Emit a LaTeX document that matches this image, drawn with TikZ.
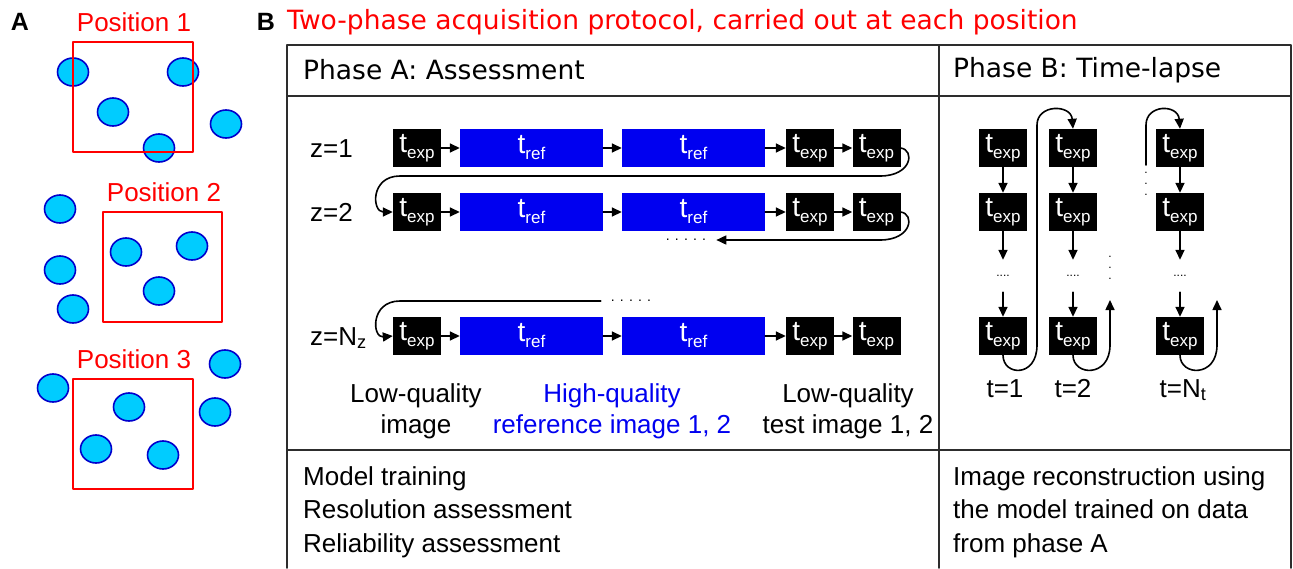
\documentclass[tikz,border=0pt]{standalone}
\usepackage{fontspec}
\setmainfont{Liberation Sans}
\newfontfamily\hdfont{DejaVu Sans}
\usetikzlibrary{arrows.meta,positioning}
\definecolor{cellfill}{RGB}{0,204,255}
\definecolor{celledge}{RGB}{0,0,204}
\definecolor{refblue}{RGB}{0,0,240}
\definecolor{posred}{RGB}{255,0,0}
\definecolor{gridgray}{RGB}{45,45,45}
\newcommand{\tsym}[1]{{\fontsize{28}{28}\selectfont t}\raisebox{-6pt}{\fontsize{17}{17}\selectfont #1}}
\tikzset{
  expbox/.style={fill=black,text=white,minimum width=48,minimum height=38,inner sep=0pt},
  refbox/.style={fill=refblue,text=white,minimum width=143,minimum height=38,inner sep=0pt},
  lbl/.style={font=\fontsize{26}{31}\selectfont,align=center,inner sep=0pt},
  hdr/.style={font=\hdfont\fontsize{26.5}{30}\selectfont,inner sep=0pt},
  panel/.style={font=\fontsize{25}{30}\selectfont\bfseries,inner sep=0pt},
  dotsrow/.style={font=\fontsize{14}{14}\selectfont,inner ysep=0pt,inner xsep=10pt},
  vdots/.style={font=\fontsize{12}{11}\selectfont,align=center,inner sep=0pt},
  link/.style={->,line width=1.6pt},
  grid/.style={line width=1.8pt,color=gridgray},
  fov/.style={line width=1.8pt,color=posred},
  cell/.style={line width=1.6pt,draw=celledge,fill=cellfill},
}
\begin{document}
\begin{tikzpicture}[line cap=round,line join=round,>={Triangle[length=10pt,width=9pt]},x=1pt,y=-1pt]
\useasboundingbox (0,0) rectangle (1293,568);
% panel A
\node[panel] (labA) at (20,22) {A};
\foreach \x/\y in {73/72,183/72,113/112,226/124,159/148,
                   60/209,60/270,73/309,126/252,192/246,159/291,
                   225/364,53/388,215/412,129/407,96/449,163/455}
  \draw[cell] (\x,\y) ellipse (15.5 and 14);
\draw[fov] (73,42) rectangle (193,152);
\draw[fov] (103,212) rectangle (222,322);
\draw[fov] (73,379) rectangle (193,489);
\node[lbl,text=posred,anchor=base] (pos1) at (134,31) {Position 1};
\node[lbl,text=posred,anchor=base] (pos2) at (164,201) {Position 2};
\node[lbl,text=posred,anchor=base] (pos3) at (134,368) {Position 3};
% panel B
\node[panel] (labB) at (266,22) {B};
\node[hdr,text=posred,anchor=west] (title) at (287,22) {Two-phase acquisition protocol, carried out at each position};
\draw[grid] (287,568) -- (287,45) -- (1291,45) -- (1291,568);
\draw[grid] (287,96) -- (1291,96);
\draw[grid] (287,450) -- (1291,450);
\draw[grid] (939,45) -- (939,568);
\node[hdr,anchor=west] (phaseA) at (303,70) {Phase A: Assessment};
\node[hdr,anchor=west] (phaseB) at (953,70) {Phase B: Time-lapse};
% phase A: z-stack rows
\foreach \r/\y in {1/148,2/212,3/336}{
  \node[expbox] (e\r1) at (417,\y) {\tsym{exp}};
  \node[refbox] (r\r1) at (531.5,\y) {\tsym{ref}};
  \node[refbox] (r\r2) at (693.5,\y) {\tsym{ref}};
  \node[expbox] (e\r2) at (810,\y) {\tsym{exp}};
  \node[expbox] (e\r3) at (876.5,\y) {\tsym{exp}};
  \draw[link] (e\r1) -- (r\r1);
  \draw[link] (r\r1) -- (r\r2);
  \draw[link] (r\r2) -- (e\r2);
  \draw[link] (e\r2) -- (e\r3);
}
\node[lbl,anchor=base west] (z1) at (310,157) {z=1};
\node[lbl,anchor=base west] (z2) at (310,221) {z=2};
\node[lbl,anchor=base west] (zn) at (310,345) {z=N\textsubscript{z}};
\node[dotsrow] (dots2) at (686,240) {. . . . .};
\node[dotsrow] (dotsn) at (631,301) {. . . . .};
\draw[link] (e13.east) .. controls (915,150) and (912,176) .. (880,176) -- (400,176)
  .. controls (370,176) and (372,212) .. (e21.west);
\draw[link] (e23.east) .. controls (915,214) and (912,240) .. (880,240) -- (dots2.east);
\draw[link] (dotsn.west) -- (400,301) .. controls (370,301) and (372,338) .. (e31.west);
\node[lbl,anchor=north] (lowq) at (416,383) {Low-quality\\image};
\node[lbl,anchor=north,text=refblue] (highq) at (612,383) {High-quality\\reference image 1, 2};
\node[lbl,anchor=north] (testq) at (848,383) {Low-quality\\test image 1, 2};
% phase B: time-lapse columns
\foreach \c/\x in {1/1003,2/1073,3/1180}{
  \node[expbox] (b\c1) at (\x,148) {\tsym{exp}};
  \node[expbox] (b\c2) at (\x,212) {\tsym{exp}};
  \node[dotsrow,font=\fontsize{12}{12}\selectfont,minimum height=32,inner xsep=0pt] (d\c) at (\x,276) {....};
  \node[expbox] (b\c3) at (\x,336) {\tsym{exp}};
  \draw[link] (b\c1) -- (b\c2);
  \draw[link] (b\c2) -- (d\c);
  \draw[link] (d\c) -- (b\c3);
}
\coordinate (up2) at (1110,300);
\coordinate (up3) at (1217,300);
\coordinate (from3) at (1146,165);
\node[vdots] (vd2) at (1110,268) {.\\.\\.};
\node[vdots] (vd3) at (1146,184) {.\\.\\.};
\draw[link] (b13.south) .. controls (1003,376) and (1037,378) .. (1037,345) -- (1037,125)
  .. controls (1037,104) and (1071,104) .. (b21.north);
\draw[link] (b23.south) .. controls (1073,376) and (1110,378) .. (1110,345) -- (up2);
\draw[link] (from3) -- (1146,125) .. controls (1146,104) and (1178,104) .. (b31.north);
\draw[link] (b33.south) .. controls (1180,376) and (1217,378) .. (1217,345) -- (up3);
\node[lbl,anchor=base] (t1) at (1005,397) {t=1};
\node[lbl,anchor=base] (t2) at (1073,397) {t=2};
\node[lbl,anchor=base] (tn) at (1183,397) {t=N\textsubscript{t}};
% bottom row
\node[lbl,align=left,anchor=north west,font=\fontsize{26}{33.5}\selectfont] (tasksA) at (303,466)
  {Model training\\Resolution assessment\\Reliability assessment};
\node[lbl,align=left,anchor=north west,font=\fontsize{26}{33.5}\selectfont] (tasksB) at (953,466)
  {Image reconstruction using\\the model trained on data\\from phase A};
\end{tikzpicture}
\end{document}
